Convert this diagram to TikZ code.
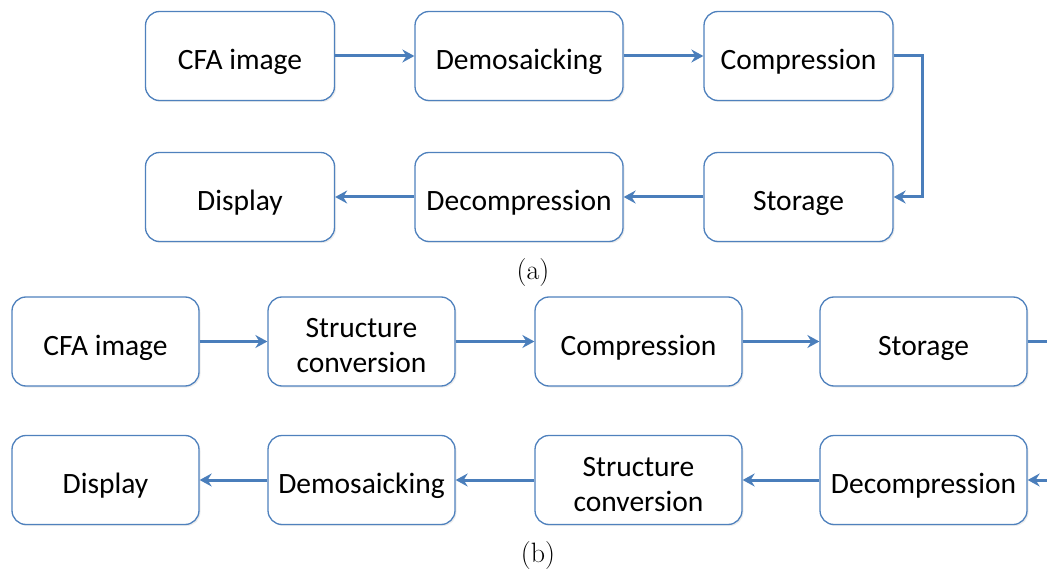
\documentclass[tikz,border=0pt]{standalone}
\usepackage{fontspec}
\newfontfamily\boxfont{Carlito}
\usetikzlibrary{arrows.meta,shadows}
\definecolor{boxblue}{RGB}{79,129,189}
\definecolor{arrblue}{RGB}{74,126,187}
\newcommand\topstrut{\rule{0pt}{33pt}}
\tikzset{
  procbox/.style={draw=boxblue, line width=1.3pt, rounded corners=14pt, fill=white,
    minimum width=#1, minimum height=89pt, inner sep=0pt, align=center,
    font=\boxfont\fontsize{29.5}{35}\selectfont,
    execute at begin node={\topstrut},
    execute at end node={\rule[-6pt]{0pt}{6pt}},
    drop shadow={shadow xshift=1.5pt, shadow yshift=-1.5pt, opacity=0.15}},
  procbox/.default=189pt,
  flow/.style={draw=arrblue, line width=3pt, -{Stealth[length=12pt,width=13pt,inset=4pt]}},
  plainflow/.style={draw=arrblue, line width=3pt},
  caplabel/.style={font=\fontsize{28}{30}\selectfont, inner sep=0pt}
}
\begin{document}
\begin{tikzpicture}[x=1pt,y=-1pt]
\useasboundingbox (0,0) rectangle (1047,572);
% (a)
\node[procbox] (a1) at (240,56) {CFA image};
\node[procbox=208pt] (a2) at (519,56) {Demosaicking};
\node[procbox] (a3) at (798.5,56) {Compression};
\node[procbox] (a6) at (240,197) {Display};
\node[procbox=208pt] (a5) at (519,197) {Decompression};
\node[procbox] (a4) at (798.5,197) {Storage};
\draw[flow] (a1) -- (a2);
\draw[flow] (a2) -- (a3);
\draw[flow, rounded corners=0pt] (a3.east) -- ++(29,0) |- (a4.east);
\draw[flow] (a4) -- (a5);
\draw[flow] (a5) -- (a6);
\node[caplabel] (capa) at (533,273) {(a)};
% (b)
\node[procbox=187pt] (b1) at (105.5,341.5) {CFA image};
\node[procbox=187pt] (b2) at (361.5,341.5) {\topstrut Structure\\conversion};
\node[procbox=207pt] (b3) at (638.5,341.5) {Compression};
\node[procbox=207pt] (b4) at (923.5,341.5) {Storage};
\node[procbox=187pt] (b8) at (105.5,480) {Display};
\node[procbox=187pt] (b7) at (361.5,480) {Demosaicking};
\node[procbox=207pt] (b6) at (638.5,480) {\topstrut Structure\\conversion};
\node[procbox=207pt] (b5) at (923.5,480) {Decompression};
\coordinate (edgeTop) at (1048,341.5);
\coordinate (edgeBot) at (1048,480);
\draw[flow] (b1) -- (b2);
\draw[flow] (b2) -- (b3);
\draw[flow] (b3) -- (b4);
\draw[plainflow] (b4.east) -- (edgeTop);
\draw[flow] (edgeBot) -- (b5.east);
\draw[flow] (b5) -- (b6);
\draw[flow] (b6) -- (b7);
\draw[flow] (b7) -- (b8);
\node[caplabel] (capb) at (538,556) {(b)};
\end{tikzpicture}
\end{document}
